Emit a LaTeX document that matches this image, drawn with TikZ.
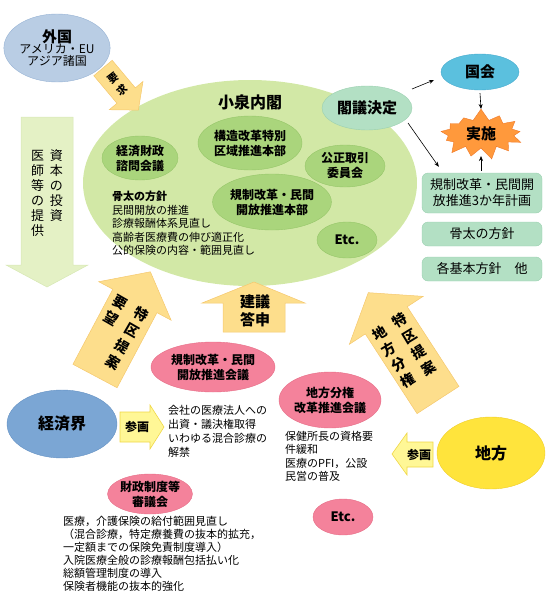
\documentclass[tikz,border=0pt]{standalone}
\usepackage{fontspec}
\setmainfont{Noto Sans CJK JP}
\usetikzlibrary{shapes.geometric,shapes.symbols,arrows.meta,calc}
\newcommand\myfs[2]{\fontsize{#1}{#2}\selectfont}
\definecolor{gaikokuf}{RGB}{185,205,228}
\definecolor{gaikokul}{RGB}{150,178,212}
\definecolor{biggreen}{RGB}{210,232,166}
\definecolor{midgreen}{RGB}{170,213,124}
\definecolor{midgreenl}{RGB}{150,198,105}
\definecolor{mint}{RGB}{179,224,196}
\definecolor{mintl}{RGB}{155,208,176}
\definecolor{kokkaif}{RGB}{91,192,222}
\definecolor{kokkail}{RGB}{70,170,205}
\definecolor{jisshif}{RGB}{255,153,60}
\definecolor{jisshil}{RGB}{240,120,40}
\definecolor{arrowf}{RGB}{253,222,140}
\definecolor{arrowl}{RGB}{245,200,110}
\definecolor{leftarrf}{RGB}{228,241,197}
\definecolor{leftarrl}{RGB}{215,232,180}
\definecolor{pinkf}{RGB}{244,130,155}
\definecolor{pinkl}{RGB}{230,110,135}
\definecolor{keizaif}{RGB}{123,166,212}
\definecolor{keizail}{RGB}{100,145,195}
\definecolor{chihof}{RGB}{255,228,60}
\definecolor{chihol}{RGB}{240,205,40}
\definecolor{sankakuf}{RGB}{255,247,150}
\definecolor{sankakul}{RGB}{240,215,70}
\begin{document}
\begin{tikzpicture}[x=1pt,y=-1pt,
  ell/.style={ellipse, inner sep=0pt, align=center},
  gnode/.style={ell, fill=midgreen, draw=midgreenl, font=\bfseries\myfs{12}{15}},
  pnode/.style={ell, fill=pinkf, draw=pinkl, font=\bfseries\myfs{12}{15}},
  mbox/.style={rectangle, rounded corners=6pt, fill=mint, draw=mintl, align=center, inner sep=0pt, minimum width=120pt, font=\myfs{13}{16}},
  conn/.style={draw=black, line width=0.6pt, -{Stealth[length=5pt,width=4pt]}},
  fatarrow/.style={fill=arrowf, draw=arrowl, line width=0.5pt},
  body/.style={anchor=north west, align=left, inner sep=0pt, font=\myfs{11}{14}},
  vtext/.style={inner sep=0pt, font=\bfseries\myfs{14}{18.5}},
]
\useasboundingbox (0,0) rectangle (550,610);

% ---- big green ellipse
\node[ell, fill=biggreen, minimum width=334pt, minimum height=206pt] (koizumi) at (250,183) {};
\node[font=\bfseries\myfs{16}{18}, inner sep=0pt] (koizumititle) at (250,102) {小泉内閣};

% ---- foreign
\node[ell, fill=gaikokuf, draw=gaikokul, minimum width=102pt, minimum height=68pt] (gaikoku) at (57,48)
  {{\bfseries\myfs{15}{19}外国}\\[-1pt]{\myfs{12}{14}アメリカ・EU}\\{\myfs{12}{14}アジア諸国}};

% ---- youkyu arrow
\begin{scope}[shift={(103,68)}, rotate=-50]
  \filldraw[fatarrow] (0,-12) -- (36,-12) -- (36,-22) -- (55,0) -- (36,22) -- (36,12) -- (0,12) -- cycle;
\end{scope}
\node[inner sep=0pt, rotate=38, font=\bfseries\myfs{10.5}{14.5}] (youkyu) at (118,85) {\begin{tabular}{@{}c@{}}要\\求\end{tabular}};

% ---- inner nodes
\node[ell, fill=mint, draw=mintl, minimum width=90pt, minimum height=44pt, font=\bfseries\myfs{15}{17}] (kakugi) at (367,108) {閣議決定};
\node[gnode, minimum width=76pt, minimum height=44pt] (keizaizaisei) at (140,158) {経済財政\\諮問会議};
\node[gnode, minimum width=104pt, minimum height=54pt] (kouzou) at (250,143) {構造改革特別\\区域推進本部};
\node[gnode, minimum width=80pt, minimum height=42pt] (kousei) at (345,166) {公正取引\\委員会};
\node[gnode, minimum width=112pt, minimum height=56pt] (kisei) at (272,202) {規制改革・民間\\開放推進本部};
\node[gnode, minimum width=60pt, minimum height=36pt, font=\bfseries\myfs{13}{15}] (etcgreen) at (347,240) {Etc.};
\node[anchor=north west, align=left, inner sep=0pt, font=\myfs{11}{13.5}] (honebuto) at (112,191)
  {{\bfseries 骨太の方針}\\民間開放の推進\\診療報酬体系見直し\\高齢者医療費の伸び適正化\\公的保険の内容・範囲見直し};

% ---- right side
\node[ell, fill=kokkaif, draw=kokkail, minimum width=78pt, minimum height=36pt, font=\bfseries\myfs{15}{17}] (kokkai) at (480,72) {国会};
\node[starburst, starburst points=13, starburst point height=12pt, random starburst=7, fill=jisshif, draw=jisshil, minimum width=90pt, minimum height=52pt, inner sep=0pt, font=\bfseries\myfs{15}{17}] (jisshi) at (481,134) {実施};
\node[mbox, minimum height=40pt] (box1) at (482,193) {規制改革・民間開\\放推進3か年計画};
\node[mbox, minimum height=24pt] (box2) at (482,234) {骨太の方針};
\node[mbox, minimum height=24pt] (box3) at (482,269) {各基本方針　他};

\draw[conn] ([shift={(45,-19)}]kakugi.center) -- ([shift={(-46,8)}]kokkai.center);
\draw[conn] ([shift={(41,15)}]kakugi.center) -- ([shift={(17,-6)}]box1.north west);
\draw[conn] ([shift={(0,3)}]kokkai.south) -- ([shift={(0,-25)}]jisshi.center);
\draw[conn] ($(box1.north -| jisshi.center)+(0,-2)$) -- ([shift={(0,22)}]jisshi.center);

% ---- left big arrow
\filldraw[fill=leftarrf, draw=leftarrl, line width=0.5pt] (21,117) -- (73,117) -- (73,265) -- (88,265) -- (47,287) -- (6,265) -- (21,265) -- cycle;
\node[anchor=north, inner sep=0pt, font=\myfs{13}{13.8}] (shihon) at (47,149)
  {\begin{tabular}{@{}c@{\hspace{6pt}}c@{}}医&資\\師&本\\等&の\\の&投\\提&資\\供&\end{tabular}};

% ---- kengi toushin arrow
\filldraw[fatarrow] (223,332) -- (285,332) -- (285,303) -- (305,303) -- (254,282) -- (202,303) -- (223,303) -- cycle;
\node[inner sep=0pt, align=center, font=\bfseries\myfs{15}{18}] (kengi) at (255,311) {建議\\答申};

% ---- left tilted arrow
\begin{scope}[shift={(95,376)}, rotate=62]
  \filldraw[fatarrow] (0,-25) -- (85,-25) -- (85,-41) -- (118,0) -- (85,41) -- (85,25) -- (0,25) -- cycle;
\end{scope}
\node[vtext, rotate=-30] (tokkuyoubou) at (116,334)
  {\begin{tabular}{@{}c@{\hspace{10pt}}c@{}}要&特\\望&区\\&提\\&案\end{tabular}};

% ---- right tilted arrow
\begin{scope}[shift={(438,400)}, rotate=123]
  \filldraw[fatarrow] (0,-25) -- (95,-25) -- (95,-44) -- (128,0) -- (95,44) -- (95,25) -- (0,25) -- cycle;
\end{scope}
\node[vtext, rotate=31] (tokkuchiho) at (405,352)
  {\begin{tabular}{@{}c@{\hspace{10pt}}c@{}}地&特\\方&区\\分&提\\権&案\end{tabular}};

% ---- pink councils
\node[pnode, minimum width=124pt, minimum height=50pt] (kiseikaigi) at (213,367) {規制改革・民間\\開放推進会議};
\node[pnode, minimum width=102pt, minimum height=56pt] (chihobunken) at (330,400) {地方分権\\改革推進会議};
\node[pnode, minimum width=80pt, minimum height=40pt] (zaisei) at (150,494) {財政制度等\\審議会};
\node[pnode, minimum width=60pt, minimum height=36pt, font=\bfseries\myfs{13}{15}] (etcpink) at (343,517) {Etc.};

% ---- keizaikai, chiho
\node[ell, fill=keizaif, draw=keizail, minimum width=110pt, minimum height=68pt, font=\bfseries\myfs{16}{18}] (keizaikai) at (62,424) {経済界};
\node[ell, fill=chihof, draw=chihol, minimum width=108pt, minimum height=72pt, font=\bfseries\myfs{16}{18}] (chiho) at (491,453) {地方};

% ---- sankaku arrows
\filldraw[fill=sankakuf, draw=sankakul, line width=0.6pt] (120,412) -- (150,412) -- (150,405) -- (164,427) -- (150,449) -- (150,442) -- (120,442) -- cycle;
\node[inner sep=0pt, font=\bfseries\myfs{12}{14}] (sankaku1) at (137,427) {参画};
\filldraw[fill=sankakuf, draw=sankakul, line width=0.6pt] (433,442) -- (407,442) -- (407,433) -- (392,454) -- (407,475) -- (407,467) -- (433,467) -- cycle;
\node[inner sep=0pt, font=\bfseries\myfs{12}{14}] (sankaku2) at (419,455) {参画};

% ---- body texts
\node[body] (kaisha) at (168,405) {会社の医療法人への\\出資・議決権取得\\いわゆる混合診療の\\解禁};
\node[body, font=\myfs{11}{13.5}] (hoken) at (285,431) {保健所長の資格要\\件緩和\\医療のPFI，公設\\民営の普及};
\node[body, font=\myfs{11}{13}] (iryou) at (63,516) {医療，介護保険の給付範囲見直し\\（混合診療，特定療養費の抜本的拡充，\\一定額までの保険免責制度導入）\\入院医療全般の診療報酬包括払い化\\総額管理制度の導入\\保険者機能の抜本的強化};
\end{tikzpicture}
\end{document}
